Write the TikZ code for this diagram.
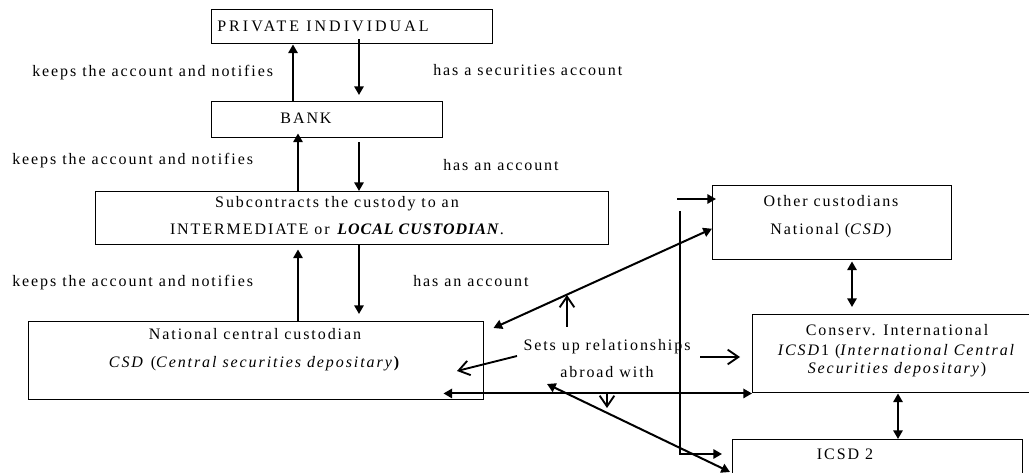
\documentclass[tikz,border=0pt]{standalone}
\usepackage{fontspec}
\setmainfont{Liberation Serif}[LetterSpace=12]
\usetikzlibrary{arrows.meta,calc}

\begin{document}
\begin{tikzpicture}[x=0.75pt,y=-0.75pt,
  bx/.style n args={2}{draw,line width=1.1pt,minimum width=#1*0.75pt,
    minimum height=#2*0.75pt,anchor=north west,inner sep=0pt},
  txt/.style={inner sep=0pt,font=\fontsize{12}{14}\selectfont},
  lbl/.style={txt,anchor=base west},
  ctr/.style={txt,anchor=base},
  arr/.style={line width=1.5pt,-{Triangle[width=7pt,length=6.5pt]}},
  dbl/.style={line width=1.5pt,{Triangle[width=7pt,length=6.5pt]}-{Triangle[width=7pt,length=6.5pt]}},
  open/.style={line width=1.4pt,-{Straight Barb[width=11pt,length=8pt]}}]

\clip (0,0) rectangle (1029,473);

% boxes
\node[bx={281}{34}] (pi) at (211,9) {};
\node[bx={231}{36}] (bank) at (211,101) {};
\node[bx={513}{53}] (sub) at (95,191) {};
\node[bx={455}{78}] (csd) at (28,321) {};
\node[bx={239}{74}] (oc) at (712,185) {};
\node[bx={290}{78}] (cv) at (752,314) {};
\node[bx={290}{60}] (icsd) at (732,439) {};

% box texts
\node[lbl] (piT) at (217,32) {\addfontfeature{LetterSpace=19}PRIVATE INDIVIDUAL};
\node[ctr] (bankT) at (306,124) {BANK};
\node[ctr] (subT1) at (337,208) {Subcontracts the custody to an};
\node[ctr] (subT2) at (337,235) {INTERMEDIATE or \textbf{\textit{\addfontfeature{LetterSpace=6}LOCAL CUSTODIAN}}.};
\node[ctr] (csdT1) at (255,340) {National central custodian};
\node[ctr] (csdT2) at (255,368) {\textit{CSD} (\textit{Central securities depositary}\textbf{)}};
\node[ctr] (ocT1) at (831,207) {Other custodians};
\node[ctr] (ocT2) at (831,235) {National (\textit{CSD})};
\node[ctr] (cvT1) at (897,336) {Conserv. International};
\node[ctr] (cvT2) at (897,356) {\textit{ICSD}1 (\textit{International Central}};
\node[ctr] (cvT3) at (897,374) {\textit{Securities depositary})};
\node[ctr] (icsdT) at (845,460) {ICSD 2};

% side labels
\node[lbl] (k1) at (32,77) {keeps the account and notifies};
\node[lbl] (h1) at (433,76) {has a securities account};
\node[lbl] (k2) at (12,165) {keeps the account and notifies};
\node[lbl] (h2) at (443,171) {has an account};
\node[lbl] (k3) at (12,287) {keeps the account and notifies};
\node[lbl] (h3) at (413,287) {has an account};
\node[ctr] (rel) at (607,351) {Sets up relationships};
\node[ctr] (abr) at (607,378) {abroad with};

% columns of the vertical connectors
\coordinate (cA) at (293,0);
\coordinate (cB) at (359,0);
\coordinate (cC) at (298,0);
\coordinate (cD) at (852,0);
\coordinate (cE) at (898,0);
\coordinate (vtop) at (680,211);

% chain of custody
\draw[arr] (bank.north -| cA) -- (pi.south -| cA);
\draw[arr] ($(pi.south -| cB)+(0,-5)$) -- ($(bank.north -| cB)+(0,-6)$);
\draw[arr] (sub.north -| cC) -- ($(bank.south -| cC)+(0,-5)$);
\draw[arr] ($(bank.south -| cB)+(0,4)$) -- (sub.north -| cB);
\draw[arr] (csd.north -| cC) -- ($(sub.south -| cC)+(0,4)$);
\draw[arr] (sub.south -| cB) -- ($(csd.north -| cB)+(0,-7)$);

% relationships abroad
\draw[dbl] ($(csd.north east)+(9,7)$) -- ($(oc.west)+(0,6)$);
\draw[dbl] ($(csd.south east)+(-41,-7)$) -- (cv.south west);
\draw[dbl] ($(rel.base)+(-60,33)$) -- ($(icsd.north west)+(-2,33)$);
\draw[arr] (vtop) |- ($(icsd.north west)+(-10,15)$);
\draw[arr] ($(oc.north west)+(-35,14)$) -- ($(oc.north west)+(4,14)$);
\draw[dbl] ($(oc.south -| cD)+(0,1)$) -- ($(cv.north -| cD)+(0,-7)$);
\draw[dbl] (cv.south -| cE) -- (icsd.north -| cE);

% open arrows around the central label
\draw[open] ($(rel.base)+(-40,-24)$) -- ++(0,-32);
\draw[open] ($(rel.base)+(-90,5)$) -- ++(-60,15);
\draw[open] ($(rel.base)+(93,6)$) -- ++(40,0);
\draw[open] ($(rel.base)+(0,41)$) -- ++(0,16);
\end{tikzpicture}
\end{document}
